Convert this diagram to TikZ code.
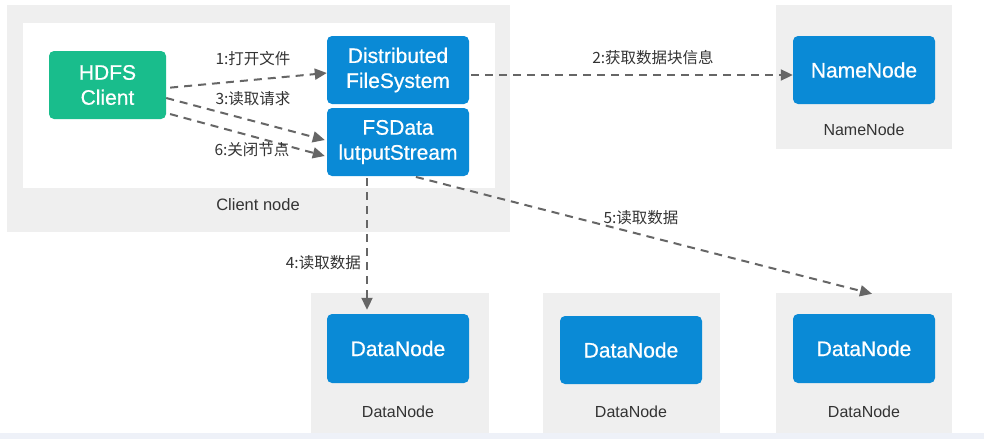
\documentclass[tikz,border=0pt]{standalone}
\usepackage{fontspec}
\setmainfont{Liberation Sans}
\newfontfamily\boxfont[FakeBold=0.6]{Liberation Sans}
\newfontfamily\cjk{Noto Sans CJK SC}
\usetikzlibrary{arrows.meta}
\definecolor{boxgray}{HTML}{EFEFEF}
\definecolor{nodeblue}{HTML}{0A8AD6}
\definecolor{nodegreen}{HTML}{19BD8C}
\definecolor{arrowgray}{HTML}{666666}
\definecolor{txtgray}{HTML}{333333}
\definecolor{stripblue}{HTML}{EEF1F8}
\tikzset{
  container/.style={fill=boxgray, draw=none, inner sep=0pt},
  bluebox/.style={fill=nodeblue, draw=none, rounded corners=5pt, text=white,
    minimum width=142pt, minimum height=68pt, align=center, inner sep=0pt,
    font=\boxfont\fontsize{21}{25}\selectfont},
  greenbox/.style={bluebox, fill=nodegreen, minimum width=117pt},
  caption/.style={text=txtgray, font=\fontsize{16}{18}\selectfont, inner sep=0pt},
  steplabel/.style={text=txtgray, font=\cjk\fontsize{15.5}{18}\selectfont, inner sep=0pt},
  flow/.style={draw=arrowgray, line width=2pt, dash pattern=on 8pt off 6pt,
    -{Triangle[length=12pt,width=11pt]}}
}
\begin{document}
\begin{tikzpicture}[x=1pt,y=-1pt]
\useasboundingbox (0,0) rectangle (984,439);
\fill[white] (0,0) rectangle (984,439);
\fill[stripblue] (0,433) rectangle (984,439);
% containers
\node[container, minimum width=503pt, minimum height=227pt] (cc) at (258.5,118.5) {};
\node[fill=white, inner sep=0pt, minimum width=472pt, minimum height=165pt] (cw) at (259,105.5) {};
\node[container, minimum width=176pt, minimum height=144pt] (nnc) at (864,77) {};
\node[container, minimum width=178pt, minimum height=140pt] (dnc1) at (400,363) {};
\node[container, minimum width=177pt, minimum height=140pt] (dnc2) at (631.5,363) {};
\node[container, minimum width=176pt, minimum height=140pt] (dnc3) at (864,363) {};
% captions
\node[caption, font=\fontsize{16.5}{18}\selectfont] (cclab) at (258,205) {Client node};
\node[caption] (nnlab) at (864,130) {NameNode};
\node[caption] (dnlab1) at (398,412) {DataNode};
\node[caption] (dnlab2) at (631,412) {DataNode};
\node[caption] (dnlab3) at (864,412) {DataNode};
% boxes
\node[greenbox, minimum height=68pt] (client) at (107.5,85) {HDFS\\Client};
\node[bluebox] (dfs) at (398,70) {Distributed\\FileSystem};
\node[bluebox] (fsd) at (398,142) {FSData\\lutputStream};
\node[bluebox] (nn) at (864,70) {NameNode};
\node[bluebox, minimum height=69pt] (dn1) at (398,348.5) {DataNode};
\node[bluebox] (dn2) at (631,350) {DataNode};
\node[bluebox, minimum height=69pt] (dn3) at (864,348.5) {DataNode};
% connectors
\draw[flow, shorten <=4pt] ([yshift=-3pt]client.east) -- ([yshift=-3pt]dfs.west);
\draw[flow, shorten <=2pt] ([yshift=-5pt]dfs.east) -- ([yshift=-5pt]nn.west);
\draw[flow] ([yshift=-13pt]client.east) -- ([xshift=-2pt,yshift=2pt]fsd.west);
\draw[flow, shorten <=4pt] ([yshift=-28pt]client.east) -- ([xshift=-2pt,yshift=-14pt]fsd.west);
\draw[flow, shorten <=2pt, shorten >=4pt] ([xshift=-31pt]fsd.south) -- ([xshift=-31pt]dn1.north);
\draw[flow, shorten <=3pt] ([xshift=15pt]fsd.south) -- ([xshift=8pt,yshift=-1pt]dnc3.north);
% step labels
\node[steplabel] (l1) at (253,59) {1:打开文件};
\node[steplabel] (l2) at (653,58) {2:获取数据块信息};
\node[steplabel] (l3) at (253,99) {3:读取请求};
\node[steplabel] (l6) at (252,150) {6:关闭节点};
\node[steplabel, anchor=east] (l4) at (361,263) {4:读取数据};
\node[steplabel] (l5) at (641,218) {5:读取数据};
\end{tikzpicture}
\end{document}
